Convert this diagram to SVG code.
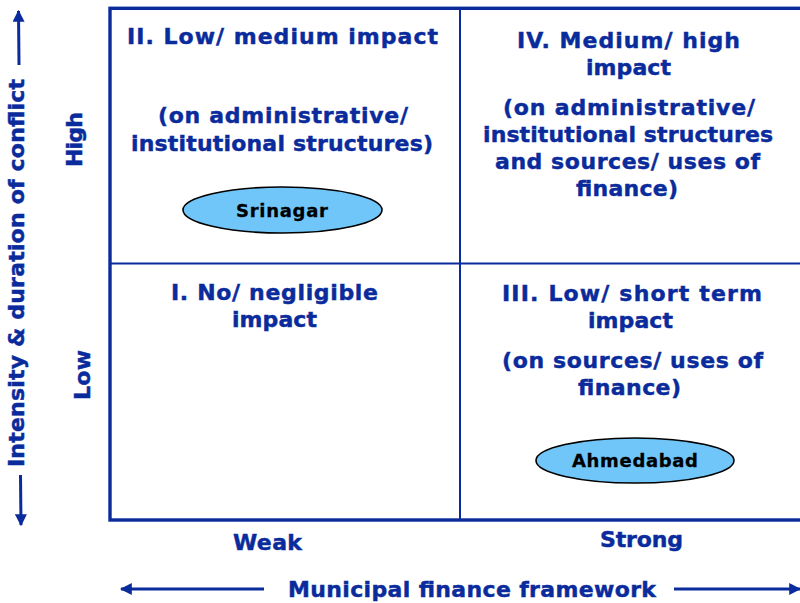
<svg xmlns="http://www.w3.org/2000/svg" width="800" height="603" viewBox="0 0 800 603">
<style>
.t{font-family:"DejaVu Sans",Verdana,sans-serif;font-weight:bold;font-size:22px;fill:#0a2b9c;stroke:#0a2b9c;stroke-width:0.45;text-anchor:middle}
.c{font-family:"DejaVu Sans",Verdana,sans-serif;font-weight:bold;font-size:18px;fill:#000;stroke:#000;stroke-width:0.3;text-anchor:middle}
.frame{fill:none;stroke:#0a2b9c;stroke-width:3.4}
.div{stroke:#0a2b9c;stroke-width:2;fill:none}
.ax{stroke:#0a2b9c;stroke-width:3;fill:none}
.city{fill:#70c6f8;stroke:#000;stroke-width:1.6}
</style>
<defs>
<marker id="ah" viewBox="0 0 10 10" refX="9" refY="5" markerWidth="4" markerHeight="4" orient="auto" markerUnits="strokeWidth">
<path d="M0,0 L10,5 L0,10 Z" fill="#0a2b9c"/>
</marker>
</defs>
<rect width="800" height="603" fill="#fff"/>
<g id="matrix">
<rect class="frame" x="110" y="8.3" width="700" height="511.7"/>
<line class="div" x1="460" y1="8" x2="460" y2="520"/>
<line class="div" x1="110" y1="263.5" x2="800" y2="263.5"/>
</g>
<g id="connectors">
<line class="ax" x1="19" y1="65" x2="18.5" y2="11" marker-end="url(#ah)"/>
<line class="ax" x1="20.5" y1="475" x2="21" y2="525" marker-end="url(#ah)"/>
<line class="ax" x1="264" y1="589" x2="121" y2="589" marker-end="url(#ah)"/>
<line class="ax" x1="674" y1="589" x2="800" y2="589" marker-end="url(#ah)"/>
</g>
<g id="q2">
<text class="t" x="282.5" y="43.5" textLength="311" lengthAdjust="spacing">II. Low/ medium impact</text>
<text class="t" x="283" y="122.5" textLength="250" lengthAdjust="spacing">(on administrative/</text>
<text class="t" x="282" y="151" textLength="302" lengthAdjust="spacing">institutional structures)</text>
</g>
<g id="srinagar">
<ellipse class="city" cx="282.5" cy="210" rx="99.5" ry="23"/>
<text class="c" x="282" y="217" textLength="92" lengthAdjust="spacing">Srinagar</text>
</g>
<g id="q4">
<text class="t" x="628.5" y="48" textLength="223" lengthAdjust="spacing">IV. Medium/ high</text>
<text class="t" x="628.5" y="75" textLength="85" lengthAdjust="spacing">impact</text>
<text class="t" x="629" y="114.5" textLength="252" lengthAdjust="spacing">(on administrative/</text>
<text class="t" x="628" y="141.5" textLength="290" lengthAdjust="spacing">institutional structures</text>
<text class="t" x="627.5" y="168.5" textLength="265" lengthAdjust="spacing">and sources/ uses of</text>
<text class="t" x="627" y="195.5" textLength="102" lengthAdjust="spacing">finance)</text>
</g>
<g id="q1">
<text class="t" x="274.5" y="300" textLength="207" lengthAdjust="spacing">I. No/ negligible</text>
<text class="t" x="274.5" y="327" textLength="85" lengthAdjust="spacing">impact</text>
</g>
<g id="q3">
<text class="t" x="632" y="301" textLength="260" lengthAdjust="spacing">III. Low/ short term</text>
<text class="t" x="630.5" y="328" textLength="85" lengthAdjust="spacing">impact</text>
<text class="t" x="632.5" y="368" textLength="261" lengthAdjust="spacing">(on sources/ uses of</text>
<text class="t" x="629.5" y="395" textLength="103" lengthAdjust="spacing">finance)</text>
</g>
<g id="ahmedabad">
<ellipse class="city" cx="635" cy="460.5" rx="99" ry="22.5"/>
<text class="c" x="635" y="467" textLength="126" lengthAdjust="spacing">Ahmedabad</text>
</g>
<g id="axis-y">
<text class="t" transform="translate(24,273) rotate(-90)" textLength="388" lengthAdjust="spacing">Intensity &amp; duration of conflict</text>
<text class="t" transform="translate(82,139.5) rotate(-90)" textLength="55" lengthAdjust="spacing">High</text>
<text class="t" transform="translate(90,375) rotate(-90)" textLength="50" lengthAdjust="spacing">Low</text>
</g>
<g id="axis-x">
<text class="t" x="267.5" y="549.5" textLength="69" lengthAdjust="spacing">Weak</text>
<text class="t" x="641.5" y="547" textLength="83" lengthAdjust="spacing">Strong</text>
<text class="t" x="472" y="597" textLength="368" lengthAdjust="spacing">Municipal finance framework</text>
</g>
</svg>
